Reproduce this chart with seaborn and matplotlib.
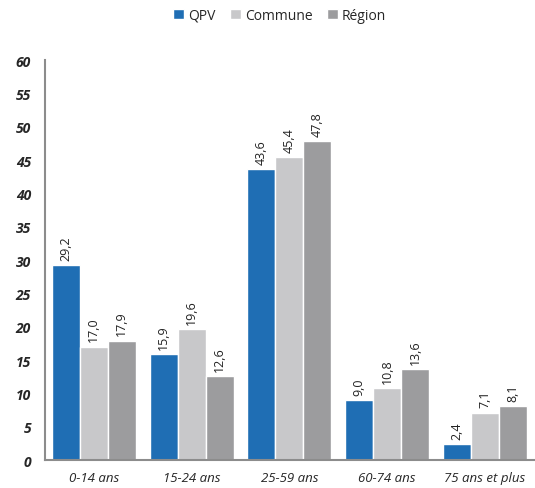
import matplotlib
matplotlib.use('Agg')
import matplotlib.pyplot as plt
import pandas as pd
import seaborn as sns

# tranches d'age et series
categories = ['0-14 ans', '15-24 ans', '25-59 ans', '60-74 ans', '75 ans et plus']
series = ['QPV', 'Commune', 'Région']
qpv = [29.2, 15.9, 43.6, 9.0, 2.4]
commune = [17.0, 19.6, 45.4, 10.8, 7.1]
region = [17.9, 12.6, 47.8, 13.6, 8.1]
colors = ['#1f6eb4', '#c8c8ca', '#9c9c9e']

df = pd.DataFrame({
    'age': categories * 3,
    'serie': [s for s in series for _ in categories],
    'valeur': qpv + commune + region,
})

sns.set_style('white')
plt.rcParams['font.family'] = ['Open Sans', 'DejaVu Sans']

fig = plt.figure(figsize=(5.35, 4.89), dpi=100)
ax = fig.add_axes([0.084, 0.057, 0.914, 0.818])

sns.barplot(data=df, x='age', y='valeur', hue='serie', hue_order=series,
            palette=colors, width=0.86, saturation=1, ax=ax, legend=True)

# etiquettes de valeur
for cont in ax.containers:
    labels = [f'{v:.1f}'.replace('.', ',') for v in cont.datavalues]
    ax.bar_label(cont, labels=labels, rotation=90, padding=4, fontsize=9, color='#222222')

ax.set_ylim(0, 60)
ax.set_xlim(-0.5, 4.5)
ax.set_yticks(range(0, 61, 5))
ax.set_xlabel('')
ax.set_ylabel('')
for lbl in ax.get_yticklabels():
    lbl.set_fontweight('bold')
    lbl.set_fontstyle('italic')
for lbl in ax.get_xticklabels():
    lbl.set_fontstyle('italic')
ax.tick_params(axis='y', labelsize=10, length=0, pad=10)
ax.tick_params(axis='x', labelsize=9.5, length=0, pad=8)

sns.despine(ax=ax)
for side in ['left', 'bottom']:
    ax.spines[side].set_color('#8c8c8c')
    ax.spines[side].set_linewidth(1.5)

ax.legend(loc='center', bbox_to_anchor=(0.48, 1.112), ncol=3, frameon=False,
          fontsize=10, handlelength=0.8, handleheight=0.8, handletextpad=0.3,
          columnspacing=1.0)

fig.savefig('out.png', dpi=100)
